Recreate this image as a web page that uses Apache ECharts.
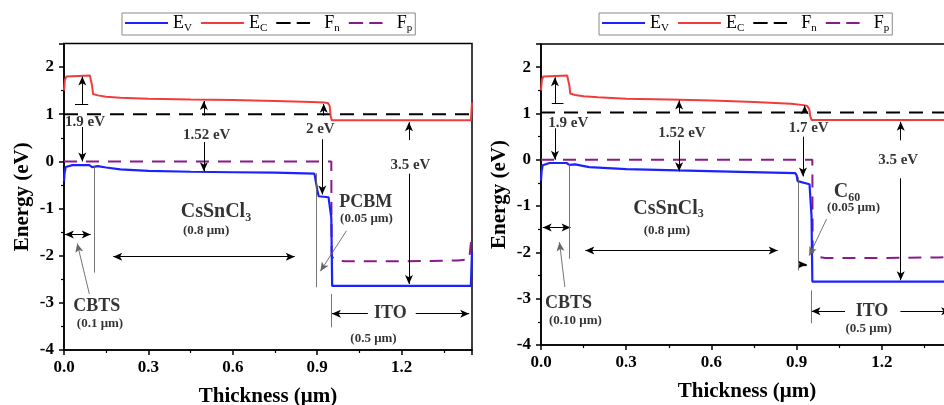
<!DOCTYPE html>
<html>
<head>
<meta charset="utf-8">
<script src="https://cdn.jsdelivr.net/npm/echarts/dist/echarts.min.js"></script>
<style>
html,body{margin:0;padding:0;background:#fff;}
#chart{width:944px;height:405px;}
</style>
</head>
<body>
<div id="chart"></div>
<script>
// ---------------- Data ----------------
// Left panel: CBTS / CsSnCl3 / PCBM / ITO
const xEcL = [0, 0.003, 0.008, 0.015, 0.092, 0.097, 0.1, 0.103, 0.12, 0.15, 0.2, 0.3, 0.45, 0.6, 0.75, 0.88, 0.925, 0.937, 0.944, 0.948, 0.952, 1.2, 1.446, 1.45];
const ecL  = [1.5, 1.72, 1.8, 1.82, 1.82, 1.8, 1.6, 1.43, 1.40, 1.37, 1.35, 1.33, 1.31, 1.30, 1.28, 1.26, 1.25, 1.24, 1.18, 0.95, 0.87, 0.87, 0.87, 1.25];
const xEvL = [0, 0.002, 0.006, 0.012, 0.03, 0.09, 0.096, 0.1, 0.104, 0.12, 0.15, 0.2, 0.3, 0.45, 0.6, 0.75, 0.89, 0.895, 0.9, 0.905, 0.94, 0.946, 0.95, 0.953, 1.2, 1.446, 1.45];
const evL  = [-0.42, -0.25, -0.12, -0.09, -0.08, -0.08, -0.09, -0.12, -0.09, -0.1, -0.13, -0.17, -0.2, -0.22, -0.23, -0.24, -0.26, -0.3, -0.6, -0.74, -0.76, -0.78, -1.2, -2.64, -2.64, -2.64, -1.9];
const xFnL = [0, 1.45];
const fnL  = [1.0, 1.0];
const xFpL = [0, 0.93, 0.95, 0.951, 0.958, 0.97, 1.0, 1.2, 1.4, 1.44, 1.45];
const fpL  = [0, 0, 0, -2.0, -2.07, -2.1, -2.12, -2.12, -2.1, -2.08, -1.5];

// Right panel: CBTS / CsSnCl3 / C60 / ITO
const xEcR = [0, 0.003, 0.008, 0.015, 0.092, 0.097, 0.1, 0.103, 0.12, 0.15, 0.2, 0.3, 0.45, 0.6, 0.75, 0.88, 0.925, 0.937, 0.944, 0.948, 0.952, 1.2, 1.45];
const ecR  = [1.5, 1.72, 1.8, 1.82, 1.82, 1.8, 1.6, 1.43, 1.40, 1.37, 1.35, 1.32, 1.30, 1.28, 1.25, 1.21, 1.18, 1.16, 1.1, 0.93, 0.86, 0.86, 0.86];
const xEvR = [0, 0.002, 0.006, 0.012, 0.03, 0.09, 0.096, 0.1, 0.104, 0.12, 0.17, 0.3, 0.48, 0.7, 0.895, 0.9, 0.903, 0.906, 0.945, 0.949, 0.952, 0.955, 1.2, 1.45];
const evR  = [-0.45, -0.25, -0.12, -0.09, -0.07, -0.07, -0.08, -0.11, -0.08, -0.1, -0.16, -0.2, -0.23, -0.26, -0.29, -0.34, -0.46, -0.49, -0.53, -0.56, -1.2, -2.63, -2.63, -2.63];
const xFnR = [0, 1.45];
const fnR  = [1.02, 1.02];
const xFpR = [0, 0.93, 0.955, 0.956, 0.962, 0.975, 1.0, 1.2, 1.4, 1.45];
const fpR  = [0, 0, 0, -2.0, -2.07, -2.1, -2.12, -2.12, -2.11, -2.09];

// Axis tick values
const xTicks = [0, 0.3, 0.6, 0.9, 1.2];
const yTicks = [-4, -3, -2, -1, 0, 1, 2];
const legendNames = ['Ev', 'Ec', 'Fn', 'Fp'];

// Annotation texts [x, y, text, fontSize]
const textsL = [
  [0.075, 0.83, '1.9 eV', 15],
  [0.507, 0.55, '1.52 eV', 15],
  [0.911, 0.69, '2 eV', 15],
  [1.231, -0.07, '3.5 eV', 15],
  [0.54, -1.07, '{b|CsSnCl}{sb|3}', 20],
  [0.505, -1.46, '(0.8 μm)', 13],
  [1.072, -0.86, 'PCBM', 18],
  [1.075, -1.21, '(0.05 μm)', 13],
  [0.116, -3.07, 'CBTS', 18],
  [0.128, -3.44, '(0.1 μm)', 13],
  [1.16, -3.23, 'ITO', 18],
  [1.10, -3.75, '(0.5 μm)', 13]
];
const textsR = [
  [0.096, 0.79, '1.9 eV', 15],
  [0.496, 0.57, '1.52 eV', 15],
  [0.942, 0.68, '1.7 eV', 15],
  [1.257, -0.01, '3.5 eV', 15],
  [0.449, -1.05, '{b|CsSnCl}{sb|3}', 20],
  [0.443, -1.52, '(0.8 μm)', 13],
  [1.077, -0.69, '{b|C}{sb|60}', 20],
  [1.10, -1.03, '(0.05 μm)', 13],
  [0.097, -3.09, 'CBTS', 18],
  [0.121, -3.48, '(0.10 μm)', 13],
  [1.165, -3.27, 'ITO', 18],
  [1.153, -3.65, '(0.5 μm)', 13]
];
// Annotation arrows [x1, y1, x2, y2, startSymbol, endSymbol, kind]
const arrowsL = [
  [0.065, 1.22, 0.065, 1.80, 'none', 'arrow', 'a'],
  [0.039, 1.22, 0.086, 1.22, 'none', 'none', 'a'],
  [0.065, 0.73, 0.065, 0.0, 'none', 'arrow', 'a'],
  [0.497, 0.97, 0.497, 1.28, 'none', 'arrow', 'a'],
  [0.497, 0.41, 0.497, -0.21, 'none', 'arrow', 'a'],
  [0.923, 0.97, 0.923, 1.22, 'none', 'arrow', 'a'],
  [0.918, 0.47, 0.918, -0.70, 'none', 'arrow', 'a'],
  [1.226, 0.45, 1.226, 0.83, 'none', 'arrow', 'a'],
  [1.226, -0.26, 1.226, -2.60, 'none', 'arrow', 'a'],
  [0.003, -1.55, 0.095, -1.55, 'arrow', 'arrow', 'a'],
  [0.09, -2.81, 0.047, -1.74, 'none', 'arrow', 't'],
  [0.175, -2.02, 0.82, -2.02, 'arrow', 'arrow', 'a'],
  [1.004, -1.47, 0.911, -2.33, 'none', 'arrow', 't'],
  [1.08, -3.23, 0.952, -3.23, 'none', 'arrow', 'a'],
  [1.25, -3.23, 1.44, -3.23, 'none', 'arrow', 'a'],
  [0.106, -0.1, 0.106, -2.36, 'none', 'none', 't'],
  [0.897, -0.25, 0.897, -2.67, 'none', 'none', 't'],
  [0.95, -2.81, 0.95, -3.52, 'none', 'none', 't']
];
const arrowsR = [
  [0.049, 1.21, 0.049, 1.78, 'none', 'arrow', 'a'],
  [0.038, 1.21, 0.079, 1.21, 'none', 'none', 'a'],
  [0.049, 0.68, 0.049, 0.0, 'none', 'arrow', 'a'],
  [0.486, 1.03, 0.486, 1.28, 'none', 'arrow', 'a'],
  [0.486, 0.42, 0.486, -0.25, 'none', 'arrow', 'a'],
  [0.928, 1.03, 0.928, 1.17, 'none', 'arrow', 'a'],
  [0.922, 0.50, 0.922, -0.36, 'none', 'arrow', 'a'],
  [1.266, 0.42, 1.266, 0.82, 'none', 'arrow', 'a'],
  [1.266, -0.40, 1.266, -2.60, 'none', 'arrow', 'a'],
  [0.006, -1.46, 0.104, -1.46, 'arrow', 'arrow', 'a'],
  [0.084, -2.75, 0.065, -1.78, 'none', 'arrow', 't'],
  [0.156, -1.96, 0.833, -1.96, 'arrow', 'arrow', 'a'],
  [1.005, -1.28, 0.944, -2.07, 'none', 'arrow', 't'],
  [0.909, -2.26, 0.935, -2.26, 'none', 'arrow', 'b'],
  [1.07, -3.27, 0.952, -3.27, 'none', 'arrow', 'a'],
  [1.265, -3.27, 1.44, -3.27, 'none', 'arrow', 'a'],
  [0.098, -0.1, 0.098, -2.14, 'none', 'none', 't'],
  [0.904, -0.38, 0.904, -2.39, 'none', 'none', 't'],
  [0.95, -2.82, 0.95, -3.53, 'none', 'none', 't']
];

// ---------------- Chart ----------------
const FONT = 'Liberation Serif';
const COLORS = { Ev: '#1c22ff', Ec: '#f23c3c', Fn: '#000000', Fp: '#8a1a8a' };
const zip = (xs, ys) => xs.map((x, i) => [x, ys[i]]);

const legendLabel = { Ev: '{m|E}{s|V}', Ec: '{m|E}{s|C}', Fn: '{m|F}{s|n}', Fp: '{m|F}{s|p}' };
const legendRich = {
  m: { fontSize: 18, fontFamily: FONT, color: '#000', lineHeight: 22 },
  s: { fontSize: 11, fontFamily: FONT, color: '#000', lineHeight: 9, verticalAlign: 'bottom' }
};
const SOLID_ICON = 'path://M0,0H42V2H0Z';
const DASH_ICON = 'path://M0,0H14V2H0Z M20,0H33V2H20Z M42,0L42,2';
const legendIcons = { Ev: SOLID_ICON, Ec: SOLID_ICON, Fn: DASH_ICON, Fp: DASH_ICON };

function makeLegend(left) {
  return {
    data: legendNames.map(n => ({ name: n, icon: legendIcons[n] })),
    left: left, top: 13, orient: 'horizontal',
    itemWidth: 43, itemHeight: 2.2, itemGap: 9,
    padding: [1, 3, 1, 3], borderColor: '#8a8a8a', borderWidth: 1,
    formatter: n => legendLabel[n],
    textStyle: { fontFamily: FONT, fontSize: 18, color: '#000', rich: legendRich },
    selectedMode: false
  };
}

function xAxisOf(idx) {
  return {
    type: 'value', gridIndex: idx, min: 0, max: 1.45, interval: 0.3,
    name: 'Thickness (μm)', nameLocation: 'middle', nameGap: 36,
    nameTextStyle: { fontFamily: FONT, fontWeight: 'bold', fontSize: 21, color: '#000' },
    axisLine: { show: true, onZero: false, lineStyle: { color: '#000', width: 1.6 } },
    axisTick: { show: true, length: 5, lineStyle: { color: '#000', width: 1.5 } },
    minorTick: { show: true, splitNumber: 2, length: 3, lineStyle: { color: '#000', width: 1.2 } },
    splitLine: { show: false },
    axisLabel: {
      margin: 9, fontFamily: FONT, fontWeight: 'bold', fontSize: 17, color: '#000',
      formatter: v => xTicks.some(t => Math.abs(t - v) < 1e-6) ? v.toFixed(1) : ''
    }
  };
}
function yAxisOf(idx) {
  return {
    type: 'value', gridIndex: idx, min: -4, max: 2.5, interval: 1,
    name: 'Energy (eV)', nameLocation: 'middle', nameGap: 31,
    nameTextStyle: { fontFamily: FONT, fontWeight: 'bold', fontSize: 21, color: '#000' },
    axisLine: { show: true, onZero: false, lineStyle: { color: '#000', width: 1.6 } },
    axisTick: { show: true, length: 5, lineStyle: { color: '#000', width: 1.5 } },
    minorTick: { show: true, splitNumber: 2, length: 3, lineStyle: { color: '#000', width: 1.2 } },
    splitLine: { show: false },
    axisLabel: {
      margin: 10, fontFamily: FONT, fontWeight: 'bold', fontSize: 17, color: '#000',
      formatter: v => yTicks.includes(v) ? String(v) : ''
    }
  };
}

function bandSeries(idx, d) {
  const base = (name, data, width, type, z) => ({
    name, type: 'line', xAxisIndex: idx, yAxisIndex: idx, data,
    symbol: 'none', smooth: false, z, silent: true,
    lineStyle: { color: COLORS[name], width, type },
    itemStyle: { color: COLORS[name] },
    emphasis: { disabled: true }
  });
  return [
    base('Fp', d.fp, 2, [13, 9], 2),
    base('Fn', d.fn, 2, [14, 9], 2),
    base('Ec', d.ec, 2, 'solid', 3),
    base('Ev', d.ev, 2.2, 'solid', 4)
  ];
}

function annotSeries(idx, arrows, texts) {
  const styleOf = k => k === 't'
    ? { color: '#666', width: 0.9, type: 'solid' }
    : (k === 'b' ? { color: '#000', width: 2.2, type: 'solid' } : { color: '#000', width: 1, type: 'solid' });
  const lines = arrows.map(a => [
    { coord: [a[0], a[1]], symbol: a[4], lineStyle: styleOf(a[6]) },
    { coord: [a[2], a[3]], symbol: a[5], lineStyle: styleOf(a[6]) }
  ]);
  const rich = {
    b: { fontFamily: FONT, fontWeight: 'bold', fontSize: 20, color: '#000', lineHeight: 24 },
    sb: { fontFamily: FONT, fontWeight: 'bold', fontSize: 12, color: '#000', lineHeight: 10, verticalAlign: 'bottom' }
  };
  return [
    {
      type: 'line', xAxisIndex: idx, yAxisIndex: idx, data: [], silent: true, z: 5,
      markLine: {
        silent: true, animation: false, symbol: ['none', 'none'], symbolSize: [6, 9],
        label: { show: false }, emphasis: { disabled: true },
        lineStyle: { color: '#000', width: 1, type: 'solid' },
        data: lines
      }
    },
    {
      type: 'scatter', xAxisIndex: idx, yAxisIndex: idx, silent: true, z: 10,
      symbolSize: 1, itemStyle: { color: 'rgba(0,0,0,0)' },
      data: texts.map(t => ({
        value: [t[0], t[1]],
        label: {
          show: true, position: 'inside', formatter: t[2],
          fontFamily: FONT, fontWeight: 'bold', fontSize: t[3], color: '#000', rich
        }
      }))
    }
  ];
}

const chart = echarts.init(document.getElementById('chart'), null, { renderer: 'canvas' });
chart.setOption({
  animation: false,
  backgroundColor: '#fff',
  legend: [makeLegend(122), makeLegend(599)],
  grid: [
    { left: 64, top: 43.5, width: 408, height: 306.5, show: true, borderColor: '#000', borderWidth: 1.5, backgroundColor: 'transparent', containLabel: false, outerBoundsMode: 'none' },
    { left: 541, top: 44, width: 412, height: 301, show: true, borderColor: '#000', borderWidth: 1.5, backgroundColor: 'transparent', containLabel: false, outerBoundsMode: 'none' }
  ],
  xAxis: [xAxisOf(0), xAxisOf(1)],
  yAxis: [yAxisOf(0), yAxisOf(1)],
  series: [
    ...bandSeries(0, { ec: zip(xEcL, ecL), ev: zip(xEvL, evL), fn: zip(xFnL, fnL), fp: zip(xFpL, fpL) }),
    ...bandSeries(1, { ec: zip(xEcR, ecR), ev: zip(xEvR, evR), fn: zip(xFnR, fnR), fp: zip(xFpR, fpR) }),
    ...annotSeries(0, arrowsL, textsL),
    ...annotSeries(1, arrowsR, textsR)
  ]
});
</script>
</body>
</html>
